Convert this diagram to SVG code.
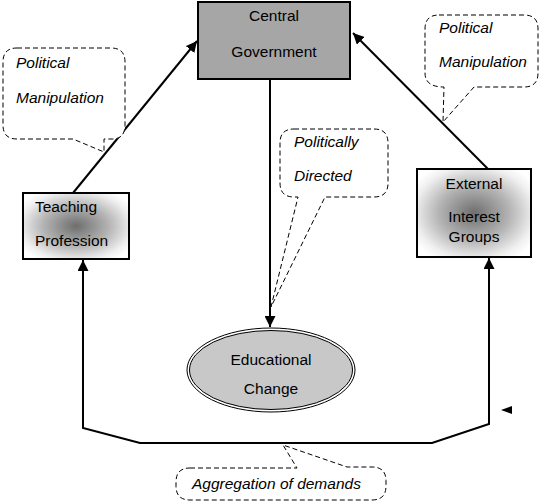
<svg xmlns="http://www.w3.org/2000/svg" width="543" height="504" viewBox="0 0 543 504">
  <style>
    .lbl { font-family: "Liberation Sans", Arial, sans-serif; font-size: 15.5px; fill: #000; }
    .it { font-style: italic; }
    .box { stroke: #000; stroke-width: 2; }
    .conn { fill: none; stroke: #000; stroke-width: 2; }
    .call { fill: #fff; stroke: #000; stroke-width: 1; stroke-dasharray: 5 3; }
  </style>
  <defs>
    <radialGradient id="shade" cx="0.5" cy="0.5" r="0.62">
      <stop offset="0" stop-color="#6e6e6e"/>
      <stop offset="0.5" stop-color="#b4b4b4"/>
      <stop offset="0.85" stop-color="#f0f0f0"/>
      <stop offset="1" stop-color="#ffffff"/>
    </radialGradient>
    <marker id="arr" viewBox="0 0 10 10" refX="10" refY="5" markerWidth="11" markerHeight="11" markerUnits="userSpaceOnUse" orient="auto">
      <path d="M0,0 L10,5 L0,10 Z" fill="#000"/>
    </marker>
  </defs>
  <rect width="543" height="504" fill="#fff"/>

  <g id="connectors">
    <line class="conn" x1="73" y1="193" x2="197" y2="41" marker-end="url(#arr)"/>
    <line class="conn" x1="488" y1="169" x2="353" y2="33" marker-end="url(#arr)"/>
    <line class="conn" x1="270" y1="80" x2="270" y2="327" marker-end="url(#arr)"/>
    <polyline class="conn" points="83,262 83,428 140,443 432,443 489,424 489,260"/>
    <line class="conn" x1="83" y1="300" x2="83" y2="260" marker-end="url(#arr)"/>
    <line class="conn" x1="489" y1="300" x2="489" y2="258" marker-end="url(#arr)"/>
    <path d="M501,410 L512,406 L512,414 Z" fill="#000"/>
  </g>

  <g id="central-government">
    <rect class="box" x="198" y="2" width="152" height="77" fill="#a6a6a6"/>
    <text class="lbl" x="274" y="21" text-anchor="middle">Central</text>
    <text class="lbl" x="274" y="57" text-anchor="middle">Government</text>
  </g>

  <g id="teaching-profession">
    <rect class="box" x="23" y="193" width="106" height="66" fill="url(#shade)"/>
    <text class="lbl" x="35" y="212">Teaching</text>
    <text class="lbl" x="35" y="246">Profession</text>
  </g>

  <g id="external-interest-groups">
    <rect class="box" x="417" y="169" width="114" height="88" fill="url(#shade)"/>
    <text class="lbl" x="474" y="189" text-anchor="middle">External</text>
    <text class="lbl" x="474" y="222" text-anchor="middle">Interest</text>
    <text class="lbl" x="474" y="242" text-anchor="middle">Groups</text>
  </g>

  <g id="educational-change">
    <ellipse cx="271" cy="370" rx="84" ry="42" fill="#fff" stroke="#000" stroke-width="1"/>
    <ellipse cx="271" cy="370" rx="81.5" ry="39.5" fill="#c8c8c8" stroke="#000" stroke-width="1"/>
    <text class="lbl" x="271" y="365" text-anchor="middle">Educational</text>
    <text class="lbl" x="271" y="394" text-anchor="middle">Change</text>
  </g>

  <g id="callout-left">
    <path class="call" d="M17,48 H111 Q125,48 125,62 V125 Q125,139 112,139 H104 V152 L73,139 H17 Q3,139 3,125 V62 Q3,48 17,48 Z"/>
    <text class="lbl it" x="16" y="68">Political</text>
    <text class="lbl it" x="16" y="103">Manipulation</text>
  </g>

  <g id="callout-right">
    <path class="call" d="M439,15 H524 Q538,15 538,29 V73 Q538,87 524,87 H474 L443,122 L444,87 Q425,87 425,73 V29 Q425,15 439,15 Z"/>
    <text class="lbl it" x="439" y="33">Political</text>
    <text class="lbl it" x="439" y="67">Manipulation</text>
  </g>

  <g id="callout-directed">
    <path class="call" d="M294,129 H374 Q388,129 388,143 V183 Q388,197 374,197 H325 L271,307 L298,197 H294 Q280,197 280,183 V143 Q280,129 294,129 Z"/>
    <text class="lbl it" x="294" y="147">Politically</text>
    <text class="lbl it" x="294" y="181">Directed</text>
  </g>

  <g id="callout-aggregation">
    <path class="call" d="M190,468 H297 L283,445 L347,467 H372 Q386,467 386,481 V486 Q386,500 372,500 H190 Q176,500 176,486 V482 Q176,468 190,468 Z"/>
    <text class="lbl it" x="192" y="489">Aggregation of demands</text>
  </g>
</svg>
